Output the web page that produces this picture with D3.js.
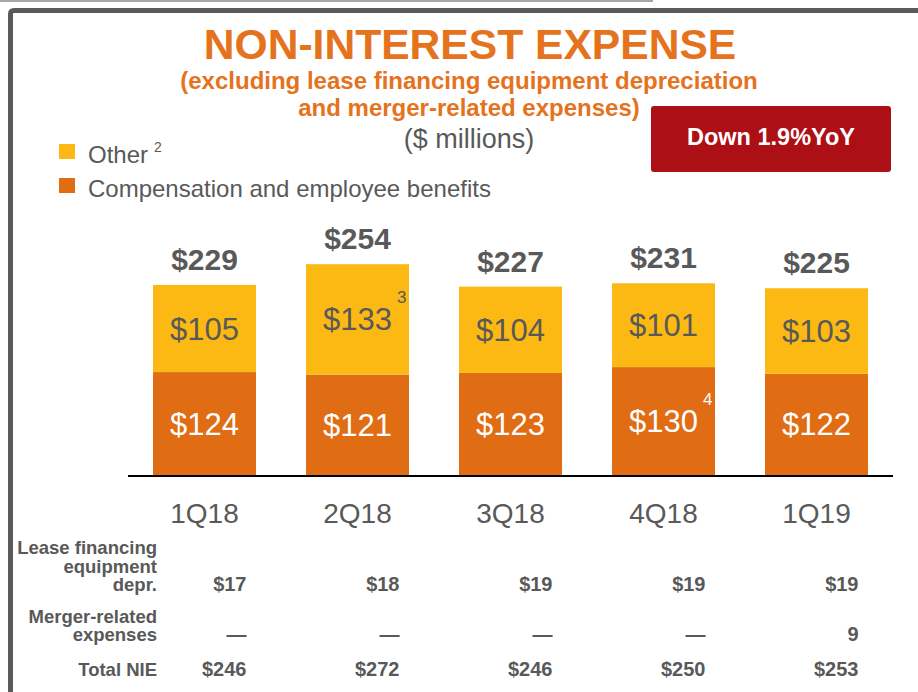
<!DOCTYPE html>
<html>
<head>
<meta charset="utf-8">
<script src="https://cdn.jsdelivr.net/npm/d3@7"></script>
<style>
  body { margin: 0; background: #fff; }
  svg { display: block; font-family: "Liberation Sans", Arial, sans-serif; }
</style>
</head>
<body>
<div id="chart"></div>
<script>
var width = 918,
  height = 692;

// DATA ($ millions)
const quarters = ['1Q18', '2Q18', '3Q18', '4Q18', '1Q19'];
const compensation = [124, 121, 123, 130, 122];
const other = [105, 133, 104, 101, 103];
const totals = [229, 254, 227, 231, 225];
const otherNotes = ['', '3', '', '', ''];
const compNotes = ['', '', '', '4', ''];

// table below the chart
const rowLabels = [['Lease financing', 'equipment', 'depr.'], ['Merger-related', 'expenses'], ['Total NIE']];
const leaseDepr = ['$17', '$18', '$19', '$19', '$19'];
const mergerExp = ['\u2014', '\u2014', '\u2014', '\u2014', '9'];
const totalNIE = ['$246', '$272', '$246', '$250', '$253'];

const GRAY = '#595959';
const ORANGE = '#e06c14';
const YELLOW = '#fdb913';
const TITLE = '#e5721c';

const svg = d3.select('#chart')
  .append('svg')
  .attr('width', width)
  .attr('height', height);

// frame
svg.append('line')
  .attr('x1', 0).attr('x2', 653)
  .attr('y1', 1).attr('y2', 1)
  .attr('stroke', '#a6a6a6')
  .attr('stroke-width', 2);

svg.append('path')
  .attr('d', 'M10.5,700 L10.5,14 Q10.5,10.5 14,10.5 L925,10.5')
  .attr('fill', 'none')
  .attr('stroke', '#5a5a5a')
  .attr('stroke-width', 5);

// titles
svg.append('text')
  .attr('x', 470).attr('y', 59)
  .attr('text-anchor', 'middle')
  .attr('fill', TITLE)
  .style('font-size', '42.6px')
  .style('font-weight', 'bold')
  .text('NON-INTEREST EXPENSE');

svg.selectAll('.subtitle')
  .data(['(excluding lease financing equipment depreciation', 'and merger-related expenses)'])
  .join('text')
  .attr('class', 'subtitle')
  .attr('x', 469)
  .attr('y', (d, i) => 89 + i * 27)
  .attr('text-anchor', 'middle')
  .attr('fill', TITLE)
  .style('font-size', '24px')
  .style('font-weight', 'bold')
  .text(d => d);

svg.append('text')
  .attr('x', 469).attr('y', 148)
  .attr('text-anchor', 'middle')
  .attr('fill', GRAY)
  .style('font-size', '27px')
  .text('($ millions)');

// YoY badge
svg.append('rect')
  .attr('x', 651).attr('y', 106)
  .attr('width', 240).attr('height', 66)
  .attr('rx', 3)
  .attr('fill', '#ad0f16');

svg.append('text')
  .attr('x', 771).attr('y', 145)
  .attr('text-anchor', 'middle')
  .attr('fill', '#fff')
  .style('font-size', '23.5px')
  .style('font-weight', 'bold')
  .text('Down 1.9%YoY');

// legend
const legend = [
  { label: 'Other', note: '2', color: YELLOW },
  { label: 'Compensation and employee benefits', note: '', color: ORANGE }
];

const lg = svg.selectAll('.legend')
  .data(legend)
  .join('g')
  .attr('class', 'legend')
  .attr('transform', (d, i) => 'translate(59,' + (144 + i * 34) + ')');

lg.append('rect')
  .attr('width', 16).attr('height', 15)
  .attr('fill', d => d.color);

lg.append('text')
  .attr('x', 29).attr('y', 19)
  .attr('fill', GRAY)
  .style('font-size', '24px')
  .text(d => d.label)
  .each(function(d) {
    if (!d.note) return;
    const w = this.getComputedTextLength();
    d3.select(this.parentNode).append('text')
      .attr('x', 29 + w + 6).attr('y', 8)
      .attr('fill', GRAY)
      .style('font-size', '14px')
      .text(d.note);
  });

// scales
const x = d3.scaleBand()
  .domain(quarters)
  .range([128, 893])
  .paddingInner(0.327)
  .paddingOuter(0.1635);

const y = d3.scaleLinear()
  .domain([0, 300])
  .range([475, 226]);

const stacked = quarters.map((q, i) => ({
  q: q,
  comp: compensation[i],
  other: other[i],
  total: totals[i],
  otherNote: otherNotes[i],
  compNote: compNotes[i]
}));

const segments = [];
stacked.forEach(d => {
  segments.push({ q: d.q, y0: 0, y1: d.comp, value: d.comp, note: d.compNote, fill: ORANGE, textColor: '#fff' });
  segments.push({ q: d.q, y0: d.comp, y1: d.comp + d.other, value: d.other, note: d.otherNote, fill: YELLOW, textColor: GRAY });
});

svg.append('g')
  .selectAll('rect')
  .data(segments)
  .join('rect')
  .attr('x', d => x(d.q))
  .attr('width', x.bandwidth())
  .attr('y', d => y(d.y1))
  .attr('height', d => y(d.y0) - y(d.y1))
  .attr('fill', d => d.fill);

// segment labels
svg.append('g')
  .selectAll('text')
  .data(segments)
  .join('text')
  .attr('x', d => x(d.q) + x.bandwidth() / 2)
  .attr('y', d => (y(d.y0) + y(d.y1)) / 2 + 11)
  .attr('text-anchor', 'middle')
  .attr('fill', d => d.textColor)
  .style('font-size', '31px')
  .text(d => '$' + d.value)
  .each(function(d) {
    if (!d.note) return;
    const w = this.getComputedTextLength();
    svg.append('text')
      .attr('x', x(d.q) + x.bandwidth() / 2 + w / 2 + 5)
      .attr('y', (y(d.y0) + y(d.y1)) / 2 + 11 - 27)
      .attr('fill', d.textColor)
      .style('font-size', '17px')
      .text(d.note);
  });

// totals
svg.append('g')
  .selectAll('text')
  .data(stacked)
  .join('text')
  .attr('x', d => x(d.q) + x.bandwidth() / 2)
  .attr('y', d => y(d.total) - 15)
  .attr('text-anchor', 'middle')
  .attr('fill', GRAY)
  .style('font-size', '30px')
  .style('font-weight', 'bold')
  .text(d => '$' + d.total);

// baseline
svg.append('line')
  .attr('x1', x.range()[0]).attr('x2', x.range()[1])
  .attr('y1', y(0) + 1).attr('y2', y(0) + 1)
  .attr('stroke', '#000')
  .attr('stroke-width', 2);

// x axis labels
const xAxis = svg.append('g')
  .attr('transform', 'translate(0,' + (y(0) + 1) + ')')
  .call(d3.axisBottom(x).tickSize(0).tickPadding(27));

xAxis.select('.domain').remove();
xAxis.selectAll('text')
  .attr('fill', GRAY)
  .style('font-size', '28px')
  .style('font-family', '"Liberation Sans", Arial, sans-serif');

// table
const rowBaselines = [591, 641, 676];
const rowValues = [leaseDepr, mergerExp, totalNIE];

rowLabels.forEach((lines, r) => {
  svg.append('text')
    .attr('x', 157)
    .attr('text-anchor', 'end')
    .attr('fill', GRAY)
    .style('font-size', '18.5px')
    .style('font-weight', 'bold')
    .selectAll('tspan')
    .data(lines)
    .join('tspan')
    .attr('x', 157)
    .attr('y', (d, i) => rowBaselines[r] - (lines.length - 1 - i) * 18.5)
    .text(d => d);

  svg.append('g')
    .selectAll('text')
    .data(rowValues[r])
    .join('text')
    .attr('x', (d, i) => x(quarters[i]) + x.bandwidth() / 2 + 42)
    .attr('y', rowBaselines[r])
    .attr('text-anchor', 'end')
    .attr('fill', GRAY)
    .style('font-size', '20px')
    .style('font-weight', 'bold')
    .text(d => d);
});
</script>
</body>
</html>
